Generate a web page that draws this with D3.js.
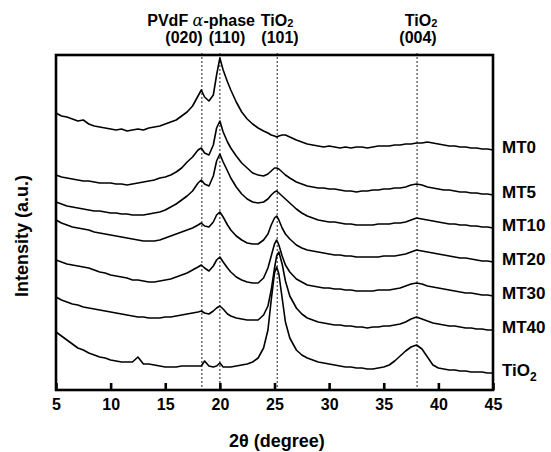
<!DOCTYPE html>
<html>
<head>
<meta charset="utf-8">
<script src="https://cdn.jsdelivr.net/npm/d3@7"></script>
<style>
  body { margin: 0; background: #fff; }
  text { font-family: Arial, "Liberation Sans", sans-serif; font-weight: bold; fill: #000; }
</style>
</head>
<body>
<svg id="chart" width="551" height="452"></svg>
<script>
// 2-theta sampling (degree)
const twoTheta = [
  5, 5.5, 6, 6.5, 7, 7.5, 8, 8.5, 9, 9.5, 10, 10.5, 11, 11.5, 12, 12.5, 13, 13.5, 14, 14.5, 15, 15.5, 16, 16.5, 17, 17.5,
  18, 18.3, 18.6, 19, 19.4, 19.7, 20, 20.3, 20.7, 21,
  21.5, 22, 22.5, 23, 23.5, 24,
  24.4, 24.7, 25, 25.2, 25.4, 25.7, 26, 26.4,
  27, 27.5, 28, 28.5, 29, 29.5, 30, 30.5, 31, 31.5, 32, 32.5, 33, 33.5, 34, 34.5, 35, 35.5, 36, 36.5,
  37, 37.5, 38, 38.5, 39, 39.5, 40, 40.5, 41, 41.5, 42, 42.5, 43, 43.5, 44, 44.5, 45
];

// intensities (a.u., curves already stacked)
const mt0 = [
  287, 284, 283, 281, 279, 280, 276, 274, 273, 272, 271, 270, 271, 269, 270, 271, 270, 272, 273, 274, 276, 278, 280, 284, 288, 294,
  304, 310, 303, 299, 305, 325, 342, 330, 318, 310,
  298, 288, 281, 276, 272, 269,
  267, 265, 264, 263, 264, 265, 265, 263,
  260, 258, 256, 255, 254, 253, 254, 253, 252, 253, 252, 253, 253, 252, 253, 254, 254, 254, 255, 255,
  256, 256, 257, 257, 258, 257, 256, 255, 254, 254, 253, 253, 252, 252, 251, 251, 250
];
const mt5 = [
  225, 223, 222, 221, 220, 219, 219, 218, 217, 217, 217, 216, 216, 215, 216, 217, 218, 219, 220, 222, 223, 225, 228, 232, 238, 243,
  250, 252, 247, 245, 255, 272, 279, 268, 258, 252,
  244, 237, 232, 227, 225, 224,
  226, 229, 232, 232, 231, 228, 225, 222,
  218, 216, 214, 213, 212, 212, 211, 211, 210, 209, 209, 208, 209, 209, 210, 210, 211, 211, 212, 212,
  213, 215, 216, 215, 213, 212, 211, 210, 210, 209, 208, 208, 207, 207, 206, 206, 205
];
const mt10 = [
  198, 196, 194, 193, 192, 191, 190, 189, 189, 188, 187, 187, 186, 186, 185, 185, 185, 186, 187, 188, 190, 193, 196, 200, 204, 209,
  217, 220, 216, 214, 224, 239, 246, 238, 229, 222,
  213, 206, 201, 198, 197, 198,
  201, 205, 208, 209, 207, 204, 201, 197,
  191, 187, 184, 182, 180, 179, 178, 178, 177, 176, 176, 175, 175, 175, 175, 176, 176, 176, 177, 177,
  178, 180, 182, 181, 180, 179, 178, 177, 176, 176, 175, 175, 174, 174, 173, 173, 172
];
const mt20 = [
  180, 177, 175, 173, 172, 171, 170, 168, 167, 166, 165, 164, 163, 162, 161, 160, 159, 159, 159, 160, 162, 164, 166, 168, 170, 172,
  175, 177, 174, 173, 178, 185, 188, 183, 175, 170,
  164, 160, 157, 156, 156, 160,
  166, 175, 182, 184, 180, 172, 166, 161,
  155, 152, 150, 149, 148, 147, 146, 145, 145, 144, 144, 143, 143, 143, 143, 143, 144, 144, 144, 145,
  146, 148, 150, 149, 148, 147, 146, 145, 144, 143, 142, 142, 141, 140, 139, 139, 138
];
const mt30 = [
  140, 138, 136, 135, 134, 133, 132, 130, 128, 127, 125, 124, 123, 122, 120, 120, 119, 118, 118, 119, 120, 121, 123, 125, 127, 130,
  133, 135, 132, 129, 134, 140, 143, 138, 132, 128,
  123, 120, 118, 117, 117, 122,
  132, 144, 156, 160, 155, 144, 135, 128,
  121, 118, 115, 114, 113, 112, 112, 111, 111, 110, 110, 109, 109, 109, 109, 110, 110, 110, 111, 112,
  114, 116, 117, 116, 114, 113, 112, 111, 110, 109, 108, 107, 107, 106, 105, 105, 104
];
const mt40 = [
  103, 100, 98, 96, 95, 93, 92, 91, 90, 89, 88, 87, 86, 85, 84, 83, 83, 82, 82, 82, 83, 83, 84, 85, 86, 87,
  88, 89, 87, 86, 89, 92, 94, 91, 86, 84,
  82, 81, 80, 80, 80, 85,
  94, 110, 132, 144, 148, 136, 119, 104,
  92, 86, 82, 80, 78, 77, 76, 75, 75, 74, 74, 73, 73, 72, 73, 73, 74, 74, 75, 76,
  78, 81, 83, 81, 79, 77, 76, 75, 74, 74, 73, 72, 72, 71, 71, 70, 70
];
const tio2 = [
  68, 64, 60, 56, 52, 50, 47, 45, 43, 42, 40, 39, 38, 38, 38, 43, 36, 36, 35, 34, 33, 33, 33, 34, 34, 34,
  34, 34, 39, 34, 33, 34, 37, 33, 33, 33,
  34, 35, 36, 38, 42, 52,
  70, 100, 127, 133, 126, 102, 78, 62,
  50, 45, 42, 40, 38, 37, 36, 35, 34, 33, 33, 32, 32, 31, 31, 32, 33, 35, 39, 44,
  49, 53, 55, 51, 43, 35, 32, 31, 30, 30, 29, 29, 28, 28, 28, 27, 27
];

const sampleNames = ["MT0", "MT5", "MT10", "MT20", "MT30", "MT40", "TiO2"];
const sampleValues = [mt0, mt5, mt10, mt20, mt30, mt40, tio2];
const peakLines = [18.35, 20.0, 25.25, 38.05];
const xTicks = [5, 10, 15, 20, 25, 30, 35, 40, 45];

const svg = d3.select("#chart");
const margin = { top: 55, right: 58, bottom: 62, left: 56 };
const W = 551, H = 452;

const x = d3.scaleLinear().domain([5, 45]).range([margin.left, W - margin.right]);
const y = d3.scaleLinear().domain([10, 345]).range([H - margin.bottom, margin.top]);

// dotted peak markers
svg.append("g")
  .selectAll("line")
  .data(peakLines)
  .enter()
  .append("line")
  .attr("x1", d => x(d)).attr("x2", d => x(d))
  .attr("y1", margin.top - 2).attr("y2", H - margin.bottom)
  .attr("stroke", "#333")
  .attr("stroke-width", 1.1)
  .attr("stroke-dasharray", "2,2");

// traces
const line = d3.line()
  .x((d, i) => x(twoTheta[i]))
  .y(d => y(d));

svg.append("g")
  .selectAll("path")
  .data(sampleValues)
  .enter()
  .append("path")
  .attr("d", line)
  .attr("fill", "none")
  .attr("stroke", "#000")
  .attr("stroke-width", 1.6)
  .attr("stroke-linejoin", "round");

// frame
svg.append("rect")
  .attr("x", margin.left).attr("y", margin.top)
  .attr("width", W - margin.left - margin.right)
  .attr("height", H - margin.top - margin.bottom)
  .attr("fill", "none")
  .attr("stroke", "#000")
  .attr("stroke-width", 2.6);

// x axis, ticks pointing inward
const xAxis = d3.axisBottom(x)
  .tickValues(xTicks)
  .tickSizeInner(-7)
  .tickSizeOuter(0)
  .tickPadding(9);

svg.append("g")
  .attr("transform", "translate(0," + (H - margin.bottom) + ")")
  .call(xAxis)
  .call(g => g.select(".domain").remove())
  .call(g => g.selectAll(".tick line").attr("stroke", "#000").attr("stroke-width", 2.6))
  .call(g => g.selectAll(".tick text")
    .attr("fill", "#000")
    .style("font-size", "16px")
    .style("font-family", "Arial, 'Liberation Sans', sans-serif")
    .style("font-weight", "bold"));

// axis titles
svg.append("text")
  .attr("x", 277).attr("y", 447)
  .attr("text-anchor", "middle")
  .style("font-size", "18px")
  .text("2θ (degree)");

svg.append("text")
  .attr("transform", "translate(28,236) rotate(-90)")
  .attr("text-anchor", "middle")
  .style("font-size", "18px")
  .text("Intensity (a.u.)");

// sample labels at the right end of each trace
const labels = svg.append("g")
  .selectAll("text")
  .data(sampleNames)
  .enter()
  .append("text")
  .attr("x", W - margin.right + 9)
  .attr("y", (d, i) => y(sampleValues[i][sampleValues[i].length - 1]) - 3)
  .attr("dy", "0.35em")
  .style("font-size", "17px");

labels.each(function(d) {
  const t = d3.select(this);
  if (d === "TiO2") {
    t.append("tspan").text("TiO");
    t.append("tspan").attr("dy", 5).style("font-size", "12px").text("2");
  } else {
    t.text(d);
  }
});

// peak annotations above the frame
function tio2Label(xc, yb) {
  const t = svg.append("text").attr("x", xc).attr("y", yb).attr("text-anchor", "middle").style("font-size", "16px");
  t.append("tspan").text("TiO");
  t.append("tspan").attr("dy", 1).style("font-size", "11px").text("2");
}

const head = svg.append("text").attr("x", 255).attr("y", 26).attr("text-anchor", "end").style("font-size", "16px");
head.append("tspan").text("PVdF ");
head.append("tspan").style("font-family", "'DejaVu Serif', serif").style("font-style", "italic").style("font-weight", "normal").text("α");
head.append("tspan").text("-phase");
tio2Label(277, 26);
tio2Label(421, 26);

[["(020)", 184], ["(110)", 227], ["(101)", 280], ["(004)", 418]].forEach(function(p) {
  svg.append("text")
    .attr("x", p[1]).attr("y", 43)
    .attr("text-anchor", "middle")
    .style("font-size", "16px")
    .text(p[0]);
});
</script>
</body>
</html>
